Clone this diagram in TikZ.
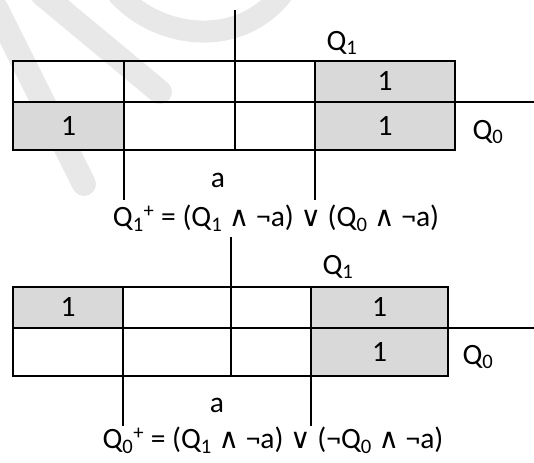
\documentclass[tikz,border=0pt]{standalone}
\usepackage{fontspec}
\setmainfont{Carlito}
\newfontfamily\opfont{DejaVu Sans}
\usepackage{xcolor}
\definecolor{cellgray}{RGB}{217,217,217}
\definecolor{markgray}{RGB}{232,232,232}
\newcommand{\kand}{{\opfont\fontsize{28}{32}\selectfont ∧}}
\newcommand{\kor}{{\opfont\fontsize{28}{32}\selectfont ∨}}
\tikzset{
  kline/.style={line width=1.6pt},
  kcell/.style={fill=cellgray},
  klabel/.style={font=\fontsize{29.5}{34}\selectfont, inner sep=0pt},
}
\begin{document}
\begin{tikzpicture}[x=1pt,y=-1pt]
\useasboundingbox (0,0) rectangle (534,462);
% faint watermark strokes
\draw[markgray,line width=24pt,line cap=round] (-4,8) -- (84,184);
\draw[markgray,line width=24pt,line cap=round] (42,-6) -- (160,92);
\draw[markgray,line width=22pt,line cap=round] (118,-6) .. controls (160,40) and (240,48) .. (282,-6);

% first map: Q1+
\fill[kcell] (315,61) rectangle (455,150);
\fill[kcell] (13,102) rectangle (124,150);
\draw[kline] (13,61) rectangle (455,150);
\draw[kline] (13,102) -- (534,102);
\foreach \x in {124,315} \draw[kline] (\x,61) -- (\x,200);
\draw[kline] (235,10) -- (235,150);
\node[klabel] (t11) at (385,81.5) {1};
\node[klabel] (t21) at (68.5,126) {1};
\node[klabel] (t24) at (385,126) {1};
\node[klabel] (tq1) at (342,43) {Q\textsubscript{1}};
\node[klabel] (tq0) at (488,132) {Q\textsubscript{0}};
\node[klabel] (ta) at (218,180) {a};
\node[klabel] (teq) at (276,218) {Q\textsubscript{1}\textsuperscript{+} = (Q\textsubscript{1} \kand{} ¬a) \kor{} (Q\textsubscript{0} \kand{} ¬a)};

% second map: Q0+
\fill[kcell] (13,287) rectangle (123,328);
\fill[kcell] (311,287) rectangle (448,376);
\draw[kline] (13,287) rectangle (448,376);
\draw[kline] (13,328) -- (534,328);
\foreach \x in {123,311} \draw[kline] (\x,287) -- (\x,426);
\draw[kline] (231,237) -- (231,376);
\node[klabel] (b11) at (68,307.5) {1};
\node[klabel] (b14) at (379.5,307.5) {1};
\node[klabel] (b24) at (379.5,352) {1};
\node[klabel] (bq1) at (338,267) {Q\textsubscript{1}};
\node[klabel] (bq0) at (478,357) {Q\textsubscript{0}};
\node[klabel] (ba) at (217,405) {a};
\node[klabel] (beq) at (273,440) {Q\textsubscript{0}\textsuperscript{+} = (Q\textsubscript{1} \kand{} ¬a) \kor{} (¬Q\textsubscript{0} \kand{} ¬a)};
\end{tikzpicture}
\end{document}
